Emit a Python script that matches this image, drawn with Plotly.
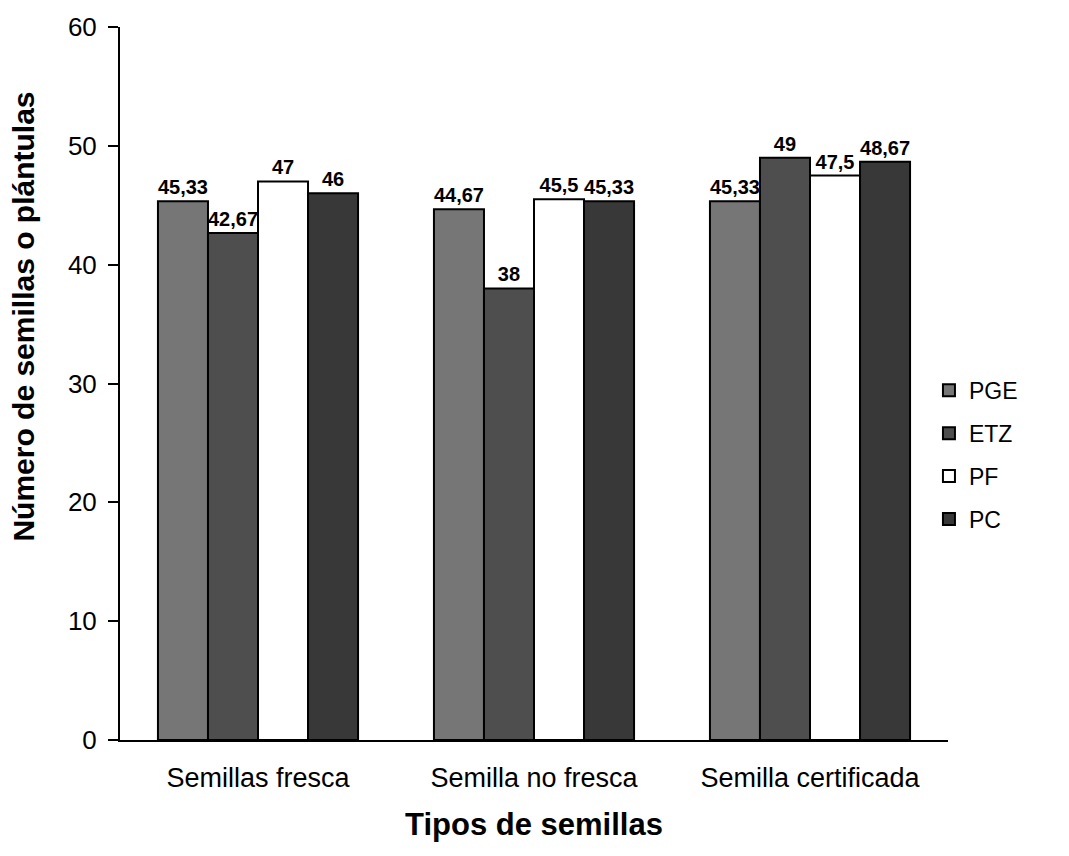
import plotly.graph_objects as go

categorias = ["Semillas fresca", "Semilla no fresca", "Semilla certificada"]
series = ["PGE", "ETZ", "PF", "PC"]
pge = [45.33, 44.67, 45.33]
etz = [42.67, 38, 49]
pf = [47, 45.5, 47.5]
pc = [46, 45.33, 48.67]
valores = [pge, etz, pf, pc]
colores = ["#767676", "#4e4e4e", "#ffffff", "#383838"]

def etiqueta(v):
    s = f"{v:.2f}".rstrip("0").rstrip(".")
    return s.replace(".", ",")

fig = go.Figure()
for nombre, vals, color in zip(series, valores, colores):
    fig.add_trace(go.Bar(
        name=nombre, x=categorias, y=vals,
        marker=dict(color=color, line=dict(color="black", width=2)),
        text=[f"<b>{etiqueta(v)}</b>" for v in vals], textposition="outside",
        textfont=dict(family="Liberation Sans, Arial", size=20, color="black"),
        cliponaxis=False, legendgroup=nombre,
    ))

fig.update_layout(
    barmode="group", bargap=0.275, bargroupgap=0,
    width=1069, height=856,
    margin=dict(l=120, r=121, t=25, b=116),
    paper_bgcolor="white", plot_bgcolor="white",
    font=dict(family="Liberation Sans, Arial", color="black"),
    legend=dict(x=0.977, y=0.4, yanchor="middle", xanchor="left",
                font=dict(size=23), tracegroupgap=10, itemwidth=30,
                bgcolor="rgba(0,0,0,0)"),
    uniformtext=dict(minsize=20, mode="show"),
)

# Y-axis title placed as a rotated annotation, set slightly above the plot centre
fig.add_annotation(
    text="<b>Número de semillas o plántulas</b>", textangle=-90,
    xref="paper", yref="paper", x=-0.117, y=0.594,
    xanchor="center", yanchor="middle", showarrow=False,
    font=dict(size=30, family="Liberation Sans, Arial", color="black"),
)

fig.update_yaxes(
    range=[0, 60], dtick=10, showline=True, linecolor="black", linewidth=2,
    ticks="outside", ticklen=10, tickwidth=2, tickcolor="black",
    showgrid=False, zeroline=False, ticklabelstandoff=6,
    tickfont=dict(size=26),
)
fig.update_xaxes(
    showline=True, linecolor="black", linewidth=2, ticks="",
    tickfont=dict(size=27), ticklabelstandoff=13,
    title=dict(text="<b>Tipos de semillas</b>", font=dict(size=31), standoff=21),
)
fig.write_html("out.html")
